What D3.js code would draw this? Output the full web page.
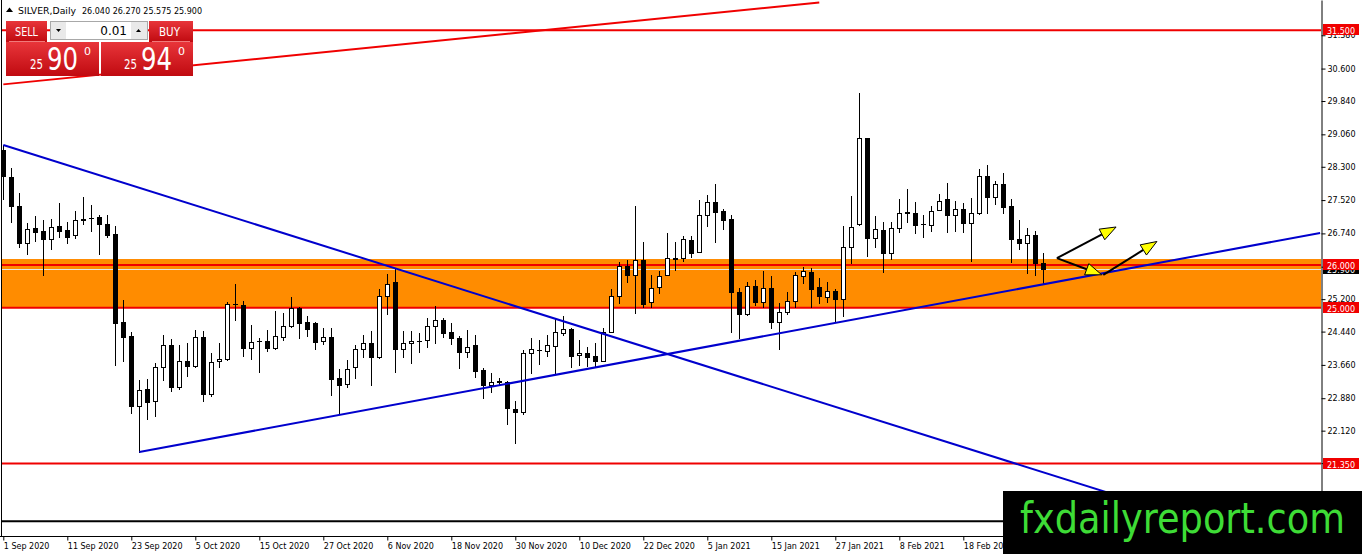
<!DOCTYPE html>
<html>
<head>
<meta charset="utf-8">
<script src="https://cdn.jsdelivr.net/npm/d3@7"></script>
<style>
  body { margin: 0; background: #fff; overflow: hidden; }
  svg { display: block; }
  text { font-family: "DejaVu Sans", sans-serif; }
</style>
</head>
<body>
<div id="chart"></div>
<script>
// daily candles, bar 0 = 1 Sep 2020
var opens = [28.69,28.05,27.38,26.52,26.86,26.80,26.60,26.91,26.82,26.70,27.06,27.09,27.12,26.96,26.72,24.66,24.34,22.70,23.09,22.82,
  23.60,24.12,23.15,23.75,23.63,24.31,22.98,23.74,23.79,25.08,25.06,24.06,24.22,24.22,24.06,24.32,24.56,24.99,24.67,24.65,
  24.23,24.31,23.35,23.21,23.60,24.03,24.17,23.84,25.28,25.59,24.04,24.17,24.22,24.24,24.58,24.70,24.42,24.30,23.97,24.13,
  23.54,23.19,23.29,23.27,22.62,22.55,23.95,24.00,23.99,24.11,24.41,24.49,23.89,23.94,23.87,23.76,24.44,25.27,25.98,25.76,
  26.12,25.13,25.48,25.77,26.15,26.16,26.59,26.31,27.17,27.47,27.26,27.07,25.36,24.85,25.51,25.14,25.47,24.67,24.89,25.16,
  25.75,25.83,25.48,25.26,25.40,25.20,26.43,26.95,28.97,26.63,26.82,26.29,26.86,27.23,27.22,26.95,26.94,27.29,27.54,27.17,
  27.30,26.98,27.22,28.08,27.60,27.90,27.38,26.60,26.51,26.70,26.04];
var highs = [28.80,28.26,27.68,26.98,27.15,27.05,27.07,27.46,27.01,27.26,27.59,27.41,27.17,27.17,26.91,25.18,24.44,23.31,23.32,23.70,
  24.36,24.26,24.13,24.17,24.48,24.46,23.95,24.17,25.14,25.56,25.16,24.59,24.28,24.48,24.92,24.88,25.26,25.01,24.81,24.66,
  24.52,24.52,23.56,23.78,24.13,24.36,24.45,25.43,25.79,25.92,24.45,24.45,24.40,24.77,25.04,24.75,24.65,24.34,24.48,24.36,
  23.58,23.48,23.35,23.28,22.82,24.01,24.28,24.24,24.36,24.74,24.81,24.52,24.24,24.09,24.18,24.52,25.43,26.08,26.12,27.38,
  26.55,25.77,25.86,26.74,26.55,26.68,26.68,27.52,27.64,27.90,27.31,27.17,25.45,25.59,25.65,25.87,25.75,25.10,25.37,25.84,
  25.96,25.94,25.70,25.61,25.44,26.92,27.62,30.02,28.98,27.15,27.01,27.01,27.54,27.77,27.48,27.17,27.38,27.66,27.91,27.51,
  27.46,27.56,28.24,28.34,27.97,28.16,27.54,27.05,26.86,26.80,26.27];
var lows = [27.55,27.01,26.43,26.26,26.57,25.77,26.37,26.65,26.51,26.63,26.96,26.80,26.26,26.66,23.66,23.76,22.53,21.62,22.39,22.46,
  23.31,23.06,23.09,23.40,23.60,22.82,22.94,23.60,23.78,24.71,23.87,23.80,23.50,23.99,24.03,24.24,24.55,24.28,24.34,24.03,
  24.15,22.96,22.50,23.15,23.35,23.85,23.19,23.83,24.85,23.50,23.85,23.71,23.97,24.09,24.17,24.31,24.15,23.58,23.85,23.37,
  22.88,23.03,23.19,22.28,21.84,22.51,23.48,23.68,23.87,23.45,24.36,23.62,23.66,23.63,23.62,23.75,24.43,25.10,25.61,24.88,
  25.01,25.01,25.34,25.76,25.88,26.09,26.18,26.30,26.92,26.55,26.84,24.42,24.28,24.84,25.06,25.02,24.53,24.03,24.85,25.02,
  25.57,25.02,25.10,25.13,24.66,24.81,26.04,26.94,26.22,26.43,25.84,26.13,26.78,27.01,26.76,26.65,26.80,27.28,26.78,26.80,
  26.78,26.10,27.20,27.22,27.43,27.22,26.08,26.37,25.82,25.77,25.575];
var closes = [28.08,27.37,26.52,26.84,26.78,26.60,26.88,26.80,26.65,27.05,27.08,27.10,26.96,26.70,24.63,24.31,22.70,23.07,22.80,23.60,
  24.12,23.15,23.75,23.64,24.31,22.98,23.72,23.80,25.09,25.09,24.06,24.19,24.23,24.06,24.34,24.57,24.99,24.65,24.50,24.20,
  24.31,23.32,23.19,23.56,24.03,24.17,23.84,25.28,25.56,24.03,24.17,24.22,24.23,24.58,24.70,24.40,24.28,23.97,24.07,23.52,
  23.19,23.27,23.27,22.64,22.56,23.93,24.03,24.01,24.13,24.42,24.49,23.88,23.94,23.85,23.76,24.42,25.27,25.98,25.76,26.12,
  25.09,25.45,25.75,26.16,26.16,26.60,26.27,27.17,27.47,27.23,27.05,25.36,24.85,25.51,25.14,25.45,24.67,24.89,25.16,25.77,
  25.86,25.43,25.28,25.40,25.20,26.43,26.90,28.97,26.63,26.84,26.29,26.86,27.22,27.22,26.94,26.96,27.27,27.51,27.17,27.30,
  26.98,27.22,28.08,27.59,27.90,27.35,26.60,26.51,26.70,26.04,25.90];

var dateBars = [0, 8, 16, 24, 32, 40, 48, 56, 64, 72, 80, 88, 96, 104, 112, 120];
var dateLabels = ["1 Sep 2020", "11 Sep 2020", "23 Sep 2020", "5 Oct 2020", "15 Oct 2020", "27 Oct 2020",
  "6 Nov 2020", "18 Nov 2020", "30 Nov 2020", "10 Dec 2020", "22 Dec 2020", "5 Jan 2021",
  "15 Jan 2021", "27 Jan 2021", "8 Feb 2021", "18 Feb 2021"];
var priceTicks = [31.38, 30.60, 29.84, 29.06, 28.30, 27.52, 26.74, 25.96, 25.20, 24.44, 23.66, 22.88, 22.12, 21.36];

// drawn objects
var redLevels = [31.5, 26.0, 25.0, 21.35];
var blackLevel = 20.0;
var bidPrice = 25.90;
var zone = [25.0, 26.14];
var redTrend = [[0, 30.23], [102, 32.15]];
var blueDown = [[0, 28.81], [164, 19.14]];
var blueUp = [[17, 21.62], [164.6, 26.75]];
var arrows = [
  [[131.7, 26.16], [139.1, 26.89]],
  [[131.7, 26.16], [137.3, 25.77]],
  [[137.5, 25.77], [144.2, 26.55]]
];

var W = 1362, H = 554;
var plot = {left: 2, right: 1321, top: 0, bottom: 536};

var x = d3.scaleLinear().domain([0, 164]).range([3.3, 3.3 + 8 * 164]);
var y = d3.scaleLinear().domain([19.653, 32.206]).range([plot.bottom, plot.top]);

var RED = "#f00000", BLUE = "#0000cd", ORANGE = "#ff8c00";

var svg = d3.select("#chart").append("svg")
    .attr("width", W)
    .attr("height", H);

svg.append("rect").attr("width", W).attr("height", H).attr("fill", "#fff");

var defs = svg.append("defs");
defs.append("clipPath").attr("id", "clip")
  .append("rect")
    .attr("x", plot.left).attr("y", plot.top)
    .attr("width", plot.right - plot.left).attr("height", plot.bottom - plot.top);

var grad = defs.append("linearGradient").attr("id", "btn")
    .attr("x1", 0).attr("y1", 0).attr("x2", 0).attr("y2", 1);
grad.append("stop").attr("offset", "0%").attr("stop-color", "#e8353a");
grad.append("stop").attr("offset", "100%").attr("stop-color", "#c00a10");

var g = svg.append("g").attr("clip-path", "url(#clip)");

// orange zone
g.append("rect")
    .attr("x", plot.left)
    .attr("y", y(zone[1]))
    .attr("width", plot.right - plot.left)
    .attr("height", y(zone[0]) - y(zone[1]))
    .attr("fill", ORANGE);

// bid line
g.append("line")
    .attr("x1", plot.left).attr("x2", plot.right)
    .attr("y1", Math.round(y(bidPrice)) + 0.5).attr("y2", Math.round(y(bidPrice)) + 0.5)
    .attr("stroke", "#e6e6e6").attr("stroke-width", 1);

g.selectAll("line.level")
  .data(redLevels)
  .enter().append("line")
    .attr("class", "level")
    .attr("x1", plot.left).attr("x2", plot.right)
    .attr("y1", function(d) { return y(d); })
    .attr("y2", function(d) { return y(d); })
    .attr("stroke", RED).attr("stroke-width", 2);

g.append("line")
    .attr("x1", plot.left).attr("x2", plot.right)
    .attr("y1", y(blackLevel)).attr("y2", y(blackLevel))
    .attr("stroke", "#000").attr("stroke-width", 2);

// candles
var bars = d3.range(opens.length);
var candle = g.selectAll("g.candle")
  .data(bars)
  .enter().append("g")
    .attr("class", "candle")
    .attr("shape-rendering", "crispEdges");

function cx(i) { return Math.round(x(i)) + 0.5; }

candle.append("line")
    .attr("x1", cx).attr("x2", cx)
    .attr("y1", function(i) { return Math.round(y(highs[i])); })
    .attr("y2", function(i) { return Math.round(y(lows[i])) + 1; })
    .attr("stroke", "#000");

candle.each(function(i) {
  var top = Math.round(y(Math.max(opens[i], closes[i]))) + 0.5;
  var bot = Math.round(y(Math.min(opens[i], closes[i]))) + 0.5;
  var sel = d3.select(this);
  if (bot - top < 1) {
    sel.append("line")
      .attr("x1", cx(i) - 2.5).attr("x2", cx(i) + 2.5)
      .attr("y1", top).attr("y2", top)
      .attr("stroke", "#000");
  } else {
    sel.append("rect")
      .attr("x", cx(i) - 2).attr("width", 4)
      .attr("y", top).attr("height", bot - top)
      .attr("fill", closes[i] >= opens[i] ? "#fff" : "#000")
      .attr("stroke", "#000");
  }
});

// trend lines
var trendLine = d3.line()
    .x(function(d) { return x(d[0]); })
    .y(function(d) { return y(d[1]); });

g.append("path").attr("d", trendLine(redTrend))
    .attr("fill", "none").attr("stroke", RED).attr("stroke-width", 2);
g.append("path").attr("d", trendLine(blueDown))
    .attr("fill", "none").attr("stroke", BLUE).attr("stroke-width", 2);
g.append("path").attr("d", trendLine(blueUp))
    .attr("fill", "none").attr("stroke", BLUE).attr("stroke-width", 2);

// arrows
arrows.forEach(function(a) {
  var x1 = x(a[0][0]), y1 = y(a[0][1]), x2 = x(a[1][0]), y2 = y(a[1][1]);
  var ang = Math.atan2(y2 - y1, x2 - x1);
  var len = 16, half = 6;
  var bx = x2 - len * Math.cos(ang), by = y2 - len * Math.sin(ang);
  g.append("line")
      .attr("x1", x1).attr("y1", y1).attr("x2", bx).attr("y2", by)
      .attr("stroke", "#000").attr("stroke-width", 2);
  var px = -Math.sin(ang) * half, py = Math.cos(ang) * half;
  g.append("path")
      .attr("d", "M" + x2 + "," + y2 + "L" + (bx + px) + "," + (by + py) + "L" + (bx - px) + "," + (by - py) + "Z")
      .attr("fill", "#ffff00").attr("stroke", "#000").attr("stroke-width", 1);
});

// frame
svg.append("line")
    .attr("x1", 1.5).attr("x2", 1.5).attr("y1", 0).attr("y2", plot.bottom)
    .attr("stroke", "#000");
svg.append("line")
    .attr("x1", 0).attr("x2", plot.right).attr("y1", plot.bottom + 0.5).attr("y2", plot.bottom + 0.5)
    .attr("stroke", "#000");

// price axis
var yAxis = svg.append("g")
    .attr("transform", "translate(" + (plot.right + 0.5) + ",0)")
    .call(d3.axisRight(y)
      .tickValues(priceTicks)
      .tickSize(4)
      .tickSizeOuter(0)
      .tickPadding(2)
      .tickFormat(d3.format(".3f")));
yAxis.attr("font-family", "DejaVu Sans").attr("font-size", 8);
yAxis.selectAll("text").attr("fill", "#000");

// time axis
var xAxis = svg.append("g")
    .attr("transform", "translate(0," + (plot.bottom + 0.5) + ")")
    .call(d3.axisBottom(x)
      .tickValues(dateBars)
      .tickSize(4)
      .tickSizeOuter(0)
      .tickPadding(3)
      .tickFormat(function(d, k) { return dateLabels[k]; }));
xAxis.select(".domain").remove();
xAxis.attr("font-family", "DejaVu Sans").attr("font-size", 8);
xAxis.selectAll("text").attr("text-anchor", "start").attr("x", 0).attr("fill", "#000");

// price labels on the axis
function priceTag(p, fill) {
  var t = svg.append("g").attr("transform", "translate(" + (plot.right + 1) + "," + Math.round(y(p)) + ")");
  t.append("rect").attr("x", 1).attr("y", -6).attr("width", 36).attr("height", 11).attr("fill", fill);
  t.append("text").attr("x", 5).attr("y", 3.5)
    .attr("font-size", 8).attr("fill", "#fff")
    .text(d3.format(".3f")(p));
}
priceTag(bidPrice, "#000");
redLevels.forEach(function(p) { priceTag(p, RED); });

// header
svg.append("path").attr("d", "M6,12 L9.5,7.5 L13,12 Z").attr("fill", "#000");
svg.append("text").attr("x", 18).attr("y", 13.5).attr("font-size", 9).attr("fill", "#000")
    .attr("textLength", 58).attr("lengthAdjust", "spacingAndGlyphs")
    .text("SILVER,Daily");
svg.append("text").attr("x", 82).attr("y", 13.5).attr("font-size", 8.5).attr("fill", "#000")
    .attr("textLength", 120).attr("lengthAdjust", "spacingAndGlyphs")
    .text(d3.format(".3f")(opens[130]) + " " + d3.format(".3f")(highs[130]) + " " +
          d3.format(".3f")(lows[130]) + " " + d3.format(".3f")(closes[130]));

// one click trading panel
var panel = svg.append("g").attr("font-family", "Liberation Sans, sans-serif");
panel.append("rect").attr("x", 6).attr("y", 21).attr("width", 41).attr("height", 21).attr("fill", "url(#btn)");
panel.append("rect").attr("x", 149).attr("y", 21).attr("width", 44).attr("height", 21).attr("fill", "url(#btn)");
panel.append("rect").attr("x", 6).attr("y", 42).attr("width", 93).attr("height", 34).attr("fill", "url(#btn)");
panel.append("rect").attr("x", 101).attr("y", 42).attr("width", 92).attr("height", 34).attr("fill", "url(#btn)");
panel.append("line").attr("x1", 9).attr("x2", 45).attr("y1", 41.5).attr("y2", 41.5).attr("stroke", "#f07a7a");
panel.append("line").attr("x1", 152).attr("x2", 190).attr("y1", 41.5).attr("y2", 41.5).attr("stroke", "#f07a7a");
panel.append("rect").attr("x", 50.5).attr("y", 21.5).attr("width", 97).attr("height", 18)
    .attr("fill", "#fff").attr("stroke", "#a8a8a8");
panel.append("rect").attr("x", 51).attr("y", 22).attr("width", 15).attr("height", 17).attr("fill", "#e9e9e9");
panel.append("rect").attr("x", 131).attr("y", 22).attr("width", 16).attr("height", 17).attr("fill", "#e9e9e9");
panel.append("path").attr("d", "M56,29 L61,29 L58.5,32 Z").attr("fill", "#000");
panel.append("path").attr("d", "M136,32 L141,32 L138.5,29 Z").attr("fill", "#000");
panel.append("text").attr("x", 127).attr("y", 35).attr("font-size", 12).attr("text-anchor", "end")
    .attr("fill", "#000").text("0.01");
panel.append("text").attr("x", 15).attr("y", 36).attr("font-size", 13).attr("fill", "#fff")
    .attr("textLength", 23).attr("lengthAdjust", "spacingAndGlyphs").text("SELL");
panel.append("text").attr("x", 159).attr("y", 36).attr("font-size", 13).attr("fill", "#fff")
    .attr("textLength", 21).attr("lengthAdjust", "spacingAndGlyphs").text("BUY");

function quote(x0, small, big, pip) {
  panel.append("text").attr("x", x0).attr("y", 69).attr("font-size", 14).attr("fill", "#fff")
      .attr("textLength", 13).attr("lengthAdjust", "spacingAndGlyphs").text(small);
  panel.append("text").attr("x", x0 + 17).attr("y", 70).attr("font-size", 32).attr("fill", "#fff")
      .attr("textLength", 31).attr("lengthAdjust", "spacingAndGlyphs").text(big);
  panel.append("text").attr("x", x0 + 54).attr("y", 55).attr("font-size", 11).attr("fill", "#fff").text(pip);
}
quote(30, "25", "90", "0");
quote(124, "25", "94", "0");

// watermark
svg.append("rect").attr("x", 1003).attr("y", 491).attr("width", 359).attr("height", 63).attr("fill", "#000");
svg.append("text").attr("x", 1020).attr("y", 533)
    .attr("font-family", "Liberation Sans, sans-serif")
    .attr("font-size", 42).attr("fill", "#3edc36")
    .attr("textLength", 325).attr("lengthAdjust", "spacingAndGlyphs")
    .text("fxdailyreport.com");
</script>
</body>
</html>
